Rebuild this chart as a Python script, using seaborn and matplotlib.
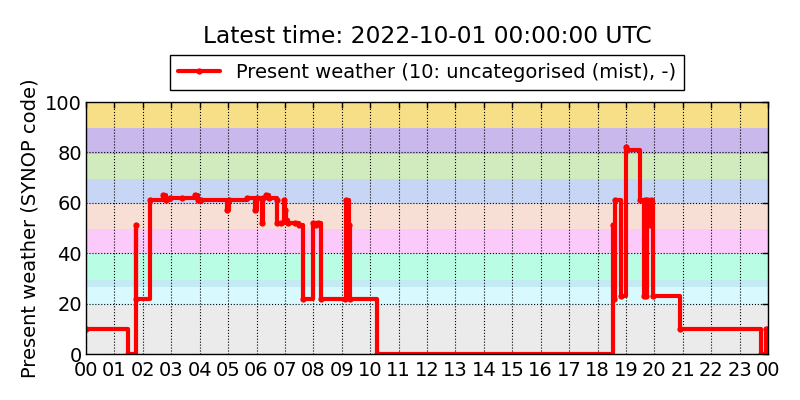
import pandas as pd
import numpy as np
import matplotlib
matplotlib.use('Agg')
import matplotlib.pyplot as plt
import matplotlib.dates as mdates
import seaborn as sns

# ============================================
# Data (hours since 2022-09-30 00:00 UTC, SYNOP present weather code)
# ============================================
hours = [0.0, 1.49, 1.75, 1.77, 2.25, 2.72, 2.80, 2.96, 3.37, 3.83, 3.95, 4.05,
         4.97, 5.02, 5.65, 5.95, 6.00, 6.19, 6.24, 6.33, 6.45, 6.71, 6.73, 6.85,
         6.97, 7.00, 7.03, 7.12, 7.35, 7.50, 7.62, 8.00, 8.08, 8.15, 8.26, 9.11,
         9.16, 9.25, 9.28, 10.23, 18.53, 18.57, 18.63, 18.82, 19.00, 19.05, 19.49,
         19.63, 19.66, 19.72, 19.75, 19.80, 19.84, 19.88, 19.96, 20.90, 23.77,
         23.93, 24.0]
codes = [10, 0, 51, 22, 61, 63, 61, 62, 62, 63, 61, 61,
         57, 61, 62, 57, 62, 52, 62, 63, 62, 61, 52, 52,
         61, 57, 53, 52, 52, 51, 22, 52, 51, 52, 22, 22,
         61, 51, 22, 0, 51, 22, 61, 23, 82, 81, 61,
         23, 61, 23, 61, 56, 51, 61, 23, 10, 0,
         10, 10]

# background bands: (lower, upper, colour)
band_lo = [0, 19.5, 26.5, 29.5, 39.5, 49.5, 59.5, 69.5, 79.5, 89.5]
band_hi = [19.5, 26.5, 29.5, 39.5, 49.5, 59.5, 69.5, 79.5, 89.5, 100]
band_col = ['#ebebeb', '#d8f9fd', '#c4ebf3', '#b9fde5', '#fbcafb',
            '#f8dfd5', '#c8d6f5', '#d2ebbe', '#c8b8ec', '#f7df88']

day = pd.Timestamp('2022-09-30 00:00')
df = pd.DataFrame({'time': day + pd.to_timedelta(hours, unit='h'),
                   'code': codes})

# ============================================
# Plot
# ============================================
sns.set_style('white')
plt.rcParams['font.family'] = ['DejaVu Sans']
plt.rcParams['text.color'] = 'black'
plt.rcParams['axes.labelcolor'] = 'black'

fig = plt.figure(figsize=(8, 4), dpi=100)
ax = fig.add_axes([0.1075, 0.115, 0.8525, 0.63])

for lo, hi, c in zip(band_lo, band_hi, band_col):
    ax.axhspan(lo, hi, color=c, lw=0, zorder=0)

sns.lineplot(data=df, x='time', y='code', ax=ax, color='red', lw=3,
             marker='.', markersize=9, markeredgewidth=0,
             drawstyle='steps-post', estimator=None, sort=False,
             label='Present weather (10: uncategorised (mist), -)', zorder=3)

ax.set_xlim(day, day + pd.Timedelta(hours=24))
ax.set_ylim(0, 100)
ax.set_yticks([0, 20, 40, 60, 80, 100])
ax.xaxis.set_major_locator(mdates.HourLocator(interval=1))
ax.xaxis.set_major_formatter(mdates.DateFormatter('%H'))
ax.grid(True, color='black', ls=':', lw=0.8, zorder=1)
ax.set_axisbelow(False)
for s in ax.spines.values():
    s.set_color('black')
    s.set_linewidth(1)
    s.set_zorder(4)
ax.tick_params(direction='in', length=4, width=1, top=True, right=True,
               labelsize=14, colors='black', pad=3)
ax.tick_params(axis='x', pad=5)
ax.set_xlabel('')
ax.set_ylabel('Present weather (SYNOP code)', fontsize=14)

leg = ax.legend(loc='lower center', bbox_to_anchor=(0.5, 1.048), fontsize=14,
                frameon=True, fancybox=False, framealpha=1, edgecolor='black',
                handlelength=2.15, borderpad=0.4, borderaxespad=0)
leg.get_frame().set_linewidth(1)
for t in leg.get_texts():
    t.set_color('black')

# title centred over the axes, not the figure
ax.set_title('Latest time: 2022-10-01 00:00:00 UTC', fontsize=16.8,
             color='black', y=1.0, pad=0)
ax.title.set_position((0.5, 1.0))
ax.title.set_transform(fig.transFigure)
ax.title.set_x(0.534)
ax.title.set_y(0.937)
ax.title.set_va('top')

plt.savefig('out.png', dpi=100, facecolor='white')
